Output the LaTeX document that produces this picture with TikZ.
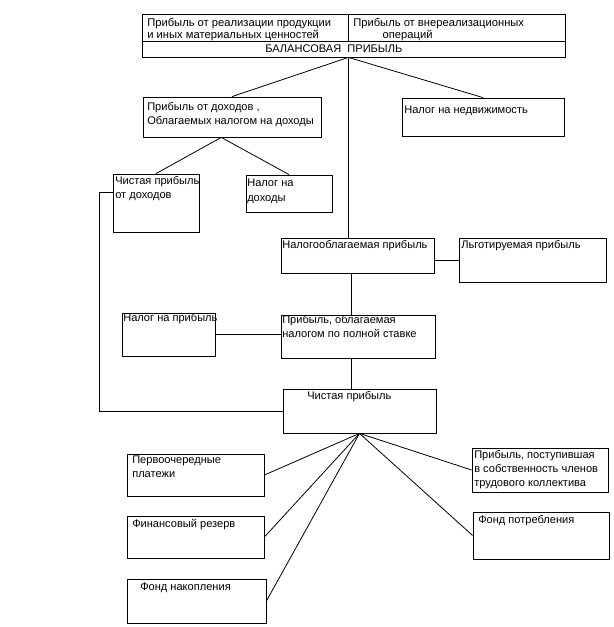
\documentclass[tikz,border=0pt]{standalone}
\usepackage{fontspec}
\setmainfont{Liberation Sans}
\usetikzlibrary{calc,fit}
\tikzset{
	box/.style={draw, line width=0.6pt, inner sep=0pt},
	txt/.style={anchor=base west, inner sep=0pt, font=\fontsize{8.3}{10.5}\selectfont},
	link/.style={line width=0.6pt}
}
\newcommand{\rows}[1]{\begin{tabular}[t]{@{}l@{}}#1\end{tabular}}

\begin{document}
\begin{tikzpicture}[x=0.75pt, y=-0.75pt]
	\useasboundingbox (0,0) rectangle (613,627);
	
	%% -- header: balance profit
	\node[box, fit={(142,14) (348,41)}] (real) {};
	\node[box, fit={(348,14) (565,41)}] (extra) {};
	\node[box, fit={(142,41) (565,57)}] (bal) {};
	\node[txt, font=\fontsize{8.4}{8.25}\selectfont] (realt) at (147,27)
	{\rows{Прибыль от реализации продукции\\и иных материальных ценностей}};
	\node[txt, font=\fontsize{8.4}{8.25}\selectfont] (extrat) at (353,27)
	{\rows{Прибыль от внереализационных\\\hspace{22pt}операций}};
	\node[txt] (balt) at (265,53) {БАЛАНСОВАЯ\ \ ПРИБЫЛЬ};
	\coordinate (split) at (real.south east |- bal.south);
	
	%% -- first level
	\node[box, fit={(143,97) (321,137)}] (dohod) {};
	\node[txt] (dohodt) at (147,111) {\rows{Прибыль от доходов ,\\Облагаемых налогом на доходы}};
	
	\node[box, fit={(402,98) (564,136)}] (nedv) {};
	\node[txt] (nedvt) at (404,114) {Налог на недвижимость};
	
	\node[box, fit={(113,174) (199,232)}] (chd) {};
	\node[txt] (chdt) at (115,185) {\rows{Чистая прибыль\\от доходов}};
	
	\node[box, fit={(246,175) (332,212)}] (ndoh) {};
	\node[txt] (ndoht) at (247,187) {\rows{Налог на\\доходы}};
	
	%% -- taxable profit
	\node[box, fit={(281,238) (434,273)}] (nob) {};
	\node[txt] (nobt) at (282,248) {Налогооблагаемая прибыль};
	
	\node[box, fit={(459,238) (606,282)}] (lgot) {};
	\node[txt] (lgott) at (461,248) {Льготируемая прибыль};
	
	\node[box, fit={(281,315) (435,358)}] (pol) {};
	\node[txt] (polt) at (282,323) {\rows{Прибыль, облагаемая\\налогом по полной ставке}};
	
	\node[box, fit={(122,313) (215,356)}] (npr) {};
	\node[txt] (nprt) at (123,321) {Налог на прибыль};
	
	%% -- net profit
	\node[box, fit={(283,389) (436,433)}] (cp) {};
	\node[txt] (cpt) at (307,399) {Чистая прибыль};
	
	%% -- distribution of net profit
	\node[box, fit={(127,454) (264,496)}] (pay) {};
	\node[txt] (payt) at (132,463) {\rows{Первоочередные\\платежи}};
	
	\node[box, fit={(127,516) (264,558)}] (res) {};
	\node[txt] (rest) at (132,527) {Финансовый резерв};
	
	\node[box, fit={(127,579) (266,623)}] (nak) {};
	\node[txt] (nakt) at (140,590) {Фонд накопления};
	
	\node[box, fit={(472,448) (608,492)}] (own) {};
	\node[txt] (ownt) at (474,458) {\rows{Прибыль, поступившая\\в собственность членов\\трудового коллектива}};
	
	\node[box, fit={(473,512) (609,559)}] (cons) {};
	\node[txt] (const) at (478,523) {Фонд потребления};
	
	%% -- connectors from balance profit
	\draw[link] (split) -- (dohod.north);
	\draw[link] (split) -- (nedv.north);
	\draw[link] (split) -- (split |- nob.north);
	
	%% -- income branch
	\coordinate (dfork) at ($(dohod.south west)!0.44!(dohod.south east)$);
	\draw[link] (dfork) -- (chd.north);
	\draw[link] (dfork) -- (ndoh.north);
	\draw[link] ([yshift=-19*0.75pt]chd.north west) -- ++(-13,0) |- (cp.west);
	
	%% -- taxable branch
	\draw[link] (lgot.west -| nob.east) -- (lgot.west);
	\draw[link] ([xshift=2.25pt]split |- nob.south) -- ([xshift=2.25pt]split |- pol.north);
	\draw[link] (npr.east) -- (npr.east -| pol.west);
	\draw[link] ([xshift=2.25pt]split |- pol.south) -- ([xshift=2.25pt]split |- cp.north);
	
	%% -- fan from net profit
	\foreach \dest/\side in {pay/east, res/east, nak/east, own/west, cons/west}
	\draw[link] (cp.south) -- (\dest.\side);
	
\end{tikzpicture}
\end{document}
